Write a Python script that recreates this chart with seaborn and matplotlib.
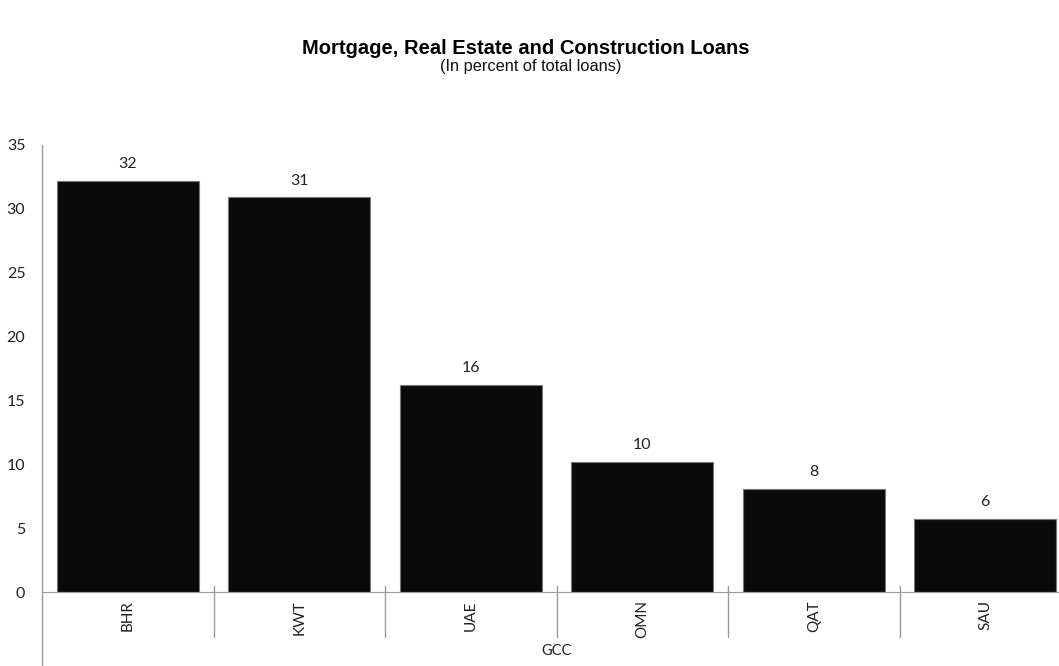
import pandas as pd
import matplotlib.pyplot as plt
import seaborn as sns

# Chart values
countries = ["BHR", "KWT", "UAE", "OMN", "QAT", "SAU"]
shares = [32.2, 30.9, 16.2, 10.2, 8.1, 5.75]
group_label = "GCC"

data = pd.DataFrame({"Country": countries, "Share": shares})

sns.set_style("white")
plt.rcParams["font.family"] = ["Lato", "DejaVu Sans"]

fig = plt.figure(figsize=(10.59, 6.66), dpi=100)
ax = fig.add_axes([42 / 1059, 74 / 666, 1029 / 1059, 447 / 666])

sns.barplot(x="Country", y="Share", data=data, color="#0a0a0a", width=0.83,
            edgecolor="#777777", linewidth=0.8, saturation=1, ax=ax)

# Value labels, rounded like the original
labels = [f"{v:.0f}" for v in shares]
ax.bar_label(ax.containers[0], labels=labels, padding=7, fontsize=11.5, color="#222222")

ax.set_ylim(0, 35)
ax.set_xlim(-0.5, len(countries) - 0.5)
ax.set_yticks(range(0, 36, 5))
ax.set_xlabel("")
ax.set_ylabel("")

for side in ["top", "right", "left"]:
    ax.spines[side].set_visible(False)
ax.spines["bottom"].set_color("#999999")

ax.tick_params(axis="y", length=4, color="#999999", labelsize=11.5, labelcolor="#222222", pad=8)
ax.tick_params(axis="x", length=0, labelsize=11, labelcolor="#222222", rotation=90, pad=6)

# Y axis line running down past the category labels
ax.plot([-0.5, -0.5], [35, -6], color="#999999", lw=1, clip_on=False)
# Category separators
for i in range(len(countries) - 1):
    ax.plot([i + 0.5, i + 0.5], [0.45, -3.5], color="#999999", lw=1, clip_on=False)

ax.text((len(countries) - 1) / 2, -4.6, group_label, ha="center", va="center",
        fontsize=10.5, color="#222222")

fig.text(526 / 1059, 1 - 48 / 666, "Mortgage, Real Estate and Construction Loans",
         ha="center", va="center", fontsize=14.5, fontweight="bold", color="black",
         family="Liberation Sans")
fig.text(531 / 1059, 1 - 67 / 666, "(In percent of total loans)",
         ha="center", va="center", fontsize=11.8, color="#111111", family="Liberation Sans")

fig.savefig("out.png", dpi=100)
